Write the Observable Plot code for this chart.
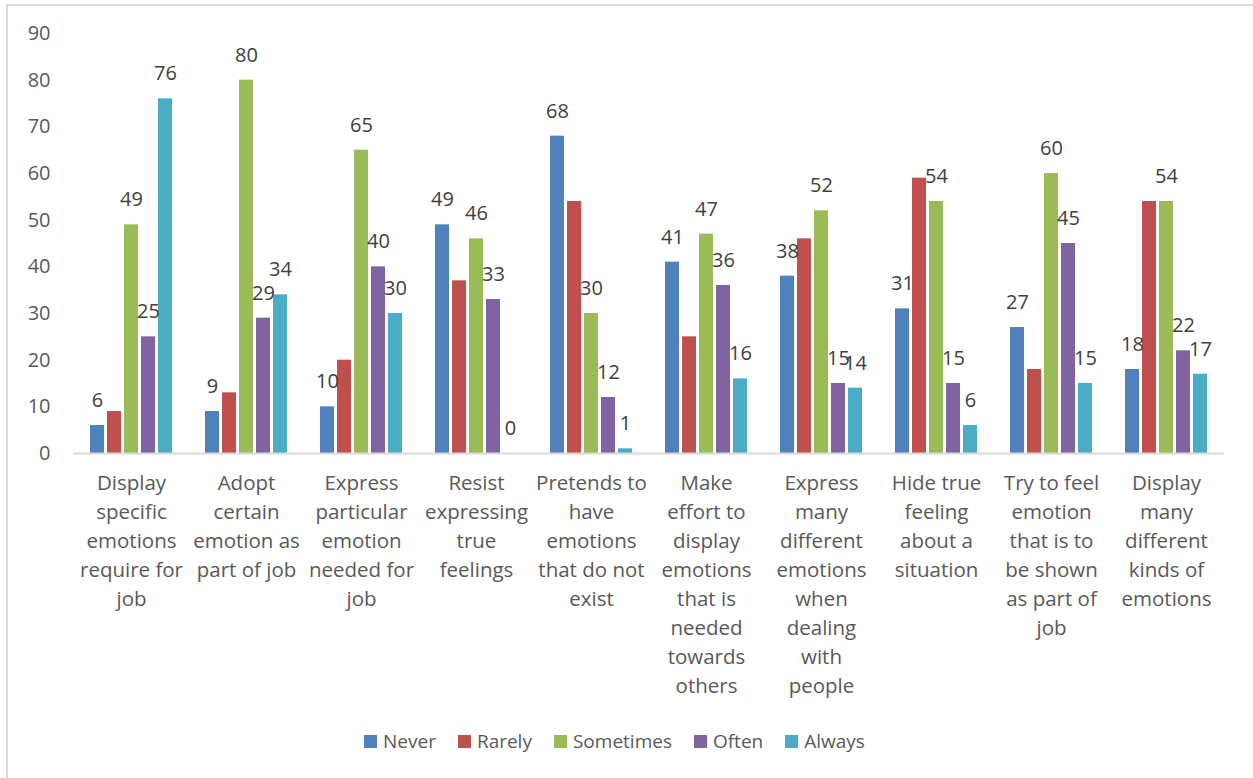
<!DOCTYPE html>
<html>
<head>
<meta charset="utf-8">
<script src="https://cdn.jsdelivr.net/npm/d3@7"></script>
<script src="https://cdn.jsdelivr.net/npm/@observablehq/plot@0.6"></script>
<style>
  html, body { margin: 0; padding: 0; background: #fff; }
  body { width: 1253px; height: 778px; position: relative; overflow: hidden; font-family: "Open Sans", sans-serif; }
  #frame { position: absolute; left: 6px; top: 4px; width: 1400px; height: 1000px; border: 2px solid #d9d9d9; box-sizing: border-box; }
  #chart { position: absolute; left: 0; top: 0; }
  #legend { position: absolute; left: 364px; top: 728px; display: flex; align-items: center; font-size: 19px; color: #595959; line-height: 26px; }
  #legend .item { display: flex; align-items: center; margin-right: 22px; }
  #legend .sw { width: 13px; height: 13px; margin-right: 6px; }
</style>
</head>
<body>
<div id="frame"></div>
<div id="chart"></div>
<div id="legend"></div>
<script>
const categories = [
  "Display specific emotions require for job",
  "Adopt certain emotion as part of job",
  "Express particular emotion needed for job",
  "Resist expressing true feelings",
  "Pretends to have emotions that do not exist",
  "Make effort to display emotions that is needed towards others",
  "Express many different emotions when dealing with people",
  "Hide true feeling about a situation",
  "Try to feel emotion that is to be shown as part of job",
  "Display many different kinds of emotions"
];
const tickLabels = [
  "Display\nspecific\nemotions\nrequire for\njob",
  "Adopt\ncertain\nemotion as\npart of job",
  "Express\nparticular\nemotion\nneeded for\njob",
  "Resist\nexpressing\ntrue\nfeelings",
  "Pretends to\nhave\nemotions\nthat do not\nexist",
  "Make\neffort to\ndisplay\nemotions\nthat is\nneeded\ntowards\nothers",
  "Express\nmany\ndifferent\nemotions\nwhen\ndealing\nwith\npeople",
  "Hide true\nfeeling\nabout a\nsituation",
  "Try to feel\nemotion\nthat is to\nbe shown\nas part of\njob",
  "Display\nmany\ndifferent\nkinds of\nemotions"
];
const series = ["Never", "Rarely", "Sometimes", "Often", "Always"];
const colors = ["#4F81BD", "#C0504D", "#9BBB59", "#8064A2", "#4BACC6"];
const never     = [6, 9, 10, 49, 68, 41, 38, 31, 27, 18];
const rarely    = [9, 13, 20, 37, 54, 25, 46, 59, 18, 54];
const sometimes = [49, 80, 65, 46, 30, 47, 52, 54, 60, 54];
const often     = [25, 29, 40, 33, 12, 36, 15, 15, 45, 22];
const always    = [76, 34, 30, 0, 1, 16, 14, 6, 15, 17];
const labelledSeries = ["Never", "Sometimes", "Often", "Always"];
const yTicks = [0, 10, 20, 30, 40, 50, 60, 70, 80, 90];

const values = [never, rarely, sometimes, often, always];
const rows = [];
categories.forEach((c, i) => {
  series.forEach((s, j) => rows.push({category: c, series: s, value: values[j][i]}));
});
const labelRows = rows.filter(r => labelledSeries.includes(r.series));

const chart = Plot.plot({
  width: 1253,
  height: 715,
  marginLeft: 71,
  marginRight: 27,
  marginTop: 33,
  marginBottom: 262,
  style: {fontFamily: "Open Sans", fontSize: "20px", color: "#595959", background: "transparent"},
  fx: {domain: categories, paddingInner: 0.27, paddingOuter: 0.135, axis: null, label: null},
  x: {domain: series, paddingInner: 0.2, paddingOuter: 0, axis: null},
  y: {domain: [0, 90], axis: null},
  color: {domain: series, range: colors},
  marks: [
    Plot.barY(rows, {fx: "category", x: "series", y: "value", fill: "series"}),
    Plot.ruleY([0], {stroke: "#d9d9d9", strokeWidth: 2, insetLeft: -16, insetRight: -16}),
    Plot.text(labelRows, {fx: "category", x: "series", y: "value", text: d => String(d.value), dy: -25, fill: "#404040", fontSize: 20}),
    Plot.axisY({ticks: yTicks, tickSize: 0, tickPadding: 39, fontSize: 20, fill: "#595959", label: null}),
    Plot.axisFx({anchor: "bottom", tickSize: 0, tickPadding: 16, fontSize: 20.5, lineHeight: 1.415, fill: "#595959", label: null,
      tickFormat: d => tickLabels[categories.indexOf(d)]})
  ]
});
document.getElementById("chart").appendChild(chart);

const legend = document.getElementById("legend");
series.forEach((s, i) => {
  const item = document.createElement("div");
  item.className = "item";
  const sw = document.createElement("span");
  sw.className = "sw";
  sw.style.background = colors[i];
  const t = document.createElement("span");
  t.textContent = s;
  item.appendChild(sw);
  item.appendChild(t);
  legend.appendChild(item);
});
</script>
</body>
</html>
